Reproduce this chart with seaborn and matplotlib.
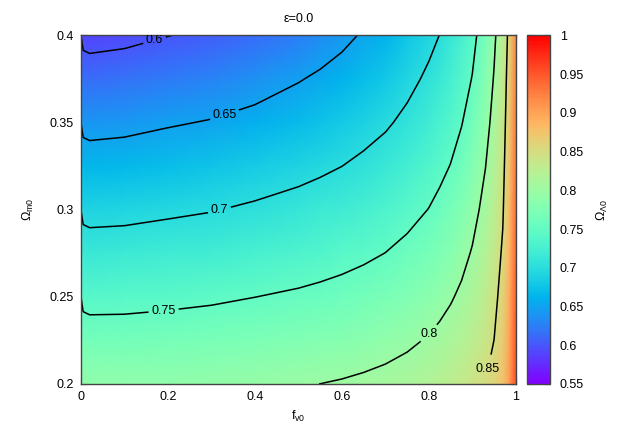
import numpy as np
import matplotlib
matplotlib.use("Agg")
import matplotlib.pyplot as plt
from matplotlib.ticker import FuncFormatter
import seaborn as sns

# grid
f_v0 = [0.0, 0.005, 0.02, 0.1, 0.2, 0.3, 0.4, 0.5, 0.55, 0.6, 0.65, 0.7, 0.75,
        0.8, 0.825, 0.85, 0.875, 0.9, 0.93, 0.95, 0.97, 0.985, 1.0]
omega_m0 = [0.2, 0.225, 0.25, 0.275, 0.3, 0.325, 0.35, 0.375, 0.4]

# Omega_Lambda0, one row per omega_m0 value (columns follow f_v0)
omega_l0 = [
    [0.800, 0.7915, 0.7897, 0.7894, 0.7903, 0.7923, 0.7951, 0.7981, 0.8001, 0.8024, 0.8054, 0.8089,
     0.8136, 0.8197, 0.8241, 0.8285, 0.8338, 0.8402, 0.8505, 0.8582, 0.8750, 0.9050, 0.9550],
    [0.775, 0.7665, 0.7647, 0.7648, 0.7665, 0.7689, 0.7725, 0.7762, 0.7786, 0.7815, 0.7850, 0.7894,
     0.7950, 0.8024, 0.8073, 0.8129, 0.8195, 0.8276, 0.8399, 0.8502, 0.8680, 0.8990, 0.9510],
    [0.750, 0.7415, 0.7397, 0.7402, 0.7426, 0.7455, 0.7498, 0.7543, 0.7572, 0.7606, 0.7647, 0.7699,
     0.7764, 0.7852, 0.7907, 0.7973, 0.8053, 0.8150, 0.8298, 0.8422, 0.8610, 0.8930, 0.9460],
    [0.725, 0.7165, 0.7147, 0.7156, 0.7188, 0.7221, 0.7272, 0.7327, 0.7361, 0.7400, 0.7447, 0.7503,
     0.7579, 0.7679, 0.7742, 0.7818, 0.7910, 0.8024, 0.8197, 0.8343, 0.8540, 0.8870, 0.9410],
    [0.700, 0.6915, 0.6897, 0.6910, 0.6949, 0.6987, 0.7046, 0.7112, 0.7153, 0.7200, 0.7255, 0.7322,
     0.7404, 0.7507, 0.7578, 0.7664, 0.7767, 0.7896, 0.8096, 0.8263, 0.8470, 0.8820, 0.9370],
    [0.675, 0.6665, 0.6647, 0.6664, 0.6711, 0.6753, 0.6820, 0.6900, 0.6947, 0.6999, 0.7064, 0.7142,
     0.7237, 0.7356, 0.7427, 0.7509, 0.7625, 0.7769, 0.7994, 0.8183, 0.8415, 0.8760, 0.9330],
    [0.650, 0.6415, 0.6397, 0.6418, 0.6472, 0.6519, 0.6593, 0.6692, 0.6748, 0.6811, 0.6883, 0.6960,
     0.7070, 0.7205, 0.7286, 0.7379, 0.7486, 0.7641, 0.7890, 0.8103, 0.8361, 0.8710, 0.9290],
    [0.625, 0.6165, 0.6147, 0.6172, 0.6234, 0.6285, 0.6367, 0.6482, 0.6549, 0.6623, 0.6707, 0.6785,
     0.6915, 0.7055, 0.7146, 0.7250, 0.7370, 0.7513, 0.7785, 0.8023, 0.8308, 0.8660, 0.9240],
    [0.600, 0.5915, 0.5897, 0.5926, 0.5995, 0.6051, 0.6141, 0.6255, 0.6331, 0.6424, 0.6532, 0.6610,
     0.6770, 0.6920, 0.7005, 0.7121, 0.7255, 0.7410, 0.7681, 0.7940, 0.8254, 0.8600, 0.9200],
]

contour_levels = [0.6, 0.65, 0.7, 0.75, 0.8, 0.85]
x_ticks = [0, 0.2, 0.4, 0.6, 0.8, 1]
y_ticks = [0.2, 0.25, 0.3, 0.35, 0.4]
cbar_ticks = [0.55, 0.6, 0.65, 0.7, 0.75, 0.8, 0.85, 0.9, 0.95, 1.0]

sns.set_style("ticks")
plt.rcParams['font.family'] = ['Liberation Sans', 'DejaVu Sans']
plt.rcParams['mathtext.default'] = 'regular'
plt.rcParams['text.color'] = 'black'
plt.rcParams['axes.labelcolor'] = 'black'
plt.rcParams['xtick.color'] = 'black'
plt.rcParams['ytick.color'] = 'black'

fmt = FuncFormatter(lambda v, p: '%g' % v)

fig = plt.figure(figsize=(6.23, 4.36), dpi=100)
ax = fig.add_axes([0.130, 0.1193, 0.698, 0.7993])
cax = fig.add_axes([0.8467, 0.1193, 0.0361, 0.7993])

z = np.array(omega_l0)
cmap = sns.color_palette("rainbow", as_cmap=True)
mesh = ax.pcolormesh(f_v0, omega_m0, z, shading='gouraud', cmap=cmap,
                     vmin=0.55, vmax=1.0, rasterized=True)
cs = ax.contour(f_v0, omega_m0, z, levels=contour_levels, colors='black',
                linewidths=1.1)
label_spots = [(0.17, 0.3965), (0.33, 0.3545), (0.3195, 0.2987),
               (0.19, 0.2421), (0.802, 0.2287), (0.933, 0.2085)]
texts = ax.clabel(cs, fmt='%g', fontsize=9, inline=True, inline_spacing=3,
                  manual=label_spots)
for t in texts:
    t.set_rotation(0)

ax.set_xlim(0, 1)
ax.set_ylim(0.2, 0.4)
ax.set_xticks(x_ticks)
ax.set_yticks(y_ticks)
ax.xaxis.set_major_formatter(fmt)
ax.yaxis.set_major_formatter(fmt)
ax.tick_params(direction='in', top=True, right=True, length=4, width=0.8,
               labelsize=9, pad=5)
ax.set_xlabel(r'$f_{v0}$', fontsize=9, labelpad=4)
ax.set_ylabel(r'$\Omega_{m0}$', fontsize=9, labelpad=10)
ax.set_title('ε=0.0', fontsize=9, pad=10)
for s in ax.spines.values():
    s.set_color('#444444')
    s.set_linewidth(1.0)

cbar = fig.colorbar(mesh, cax=cax, ticks=cbar_ticks)
cbar.ax.yaxis.set_major_formatter(fmt)
cbar.ax.tick_params(direction='in', left=True, right=True, length=4,
                    width=0.8, labelsize=9, pad=7)
cbar.set_label(r'$\Omega_{\Lambda 0}$', fontsize=9, labelpad=8)
cbar.outline.set_edgecolor('#444444')
cbar.outline.set_linewidth(1.0)

fig.savefig('out.png', dpi=100)
